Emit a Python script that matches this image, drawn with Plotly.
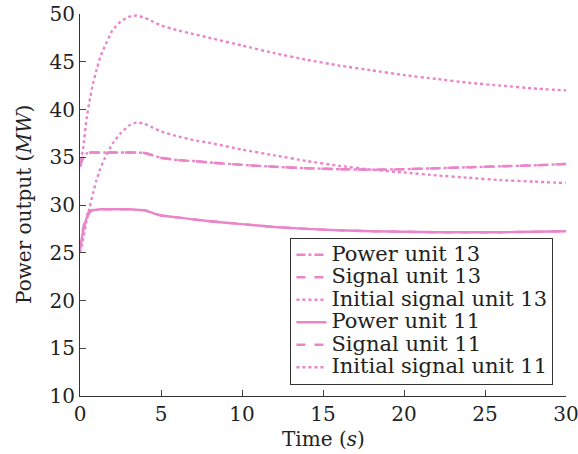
import plotly.graph_objects as go

t = [0, 0.2, 0.4, 0.6, 0.8, 1, 1.25, 1.5, 2, 2.5, 3, 3.5, 4, 4.5, 5, 6, 7, 8, 10, 12, 14, 16, 18, 20, 22, 24, 26, 28, 30]

power_13 = [34.2, 35.0, 35.4, 35.5, 35.5, 35.5, 35.5, 35.5, 35.5, 35.5, 35.5, 35.5, 35.45, 35.2, 34.95, 34.7, 34.6, 34.45, 34.2, 34.0, 33.85, 33.75, 33.7, 33.75, 33.85, 33.95, 34.05, 34.15, 34.3]
signal_13 = [34.0, 35.1, 35.45, 35.5, 35.5, 35.5, 35.5, 35.5, 35.5, 35.5, 35.5, 35.5, 35.45, 35.2, 34.95, 34.7, 34.6, 34.45, 34.2, 34.0, 33.85, 33.75, 33.7, 33.75, 33.85, 33.95, 34.05, 34.15, 34.3]
initial_13 = [34.0, 36.0, 39.0, 41.0, 42.7, 44.0, 45.5, 46.5, 48.3, 49.2, 49.7, 49.85, 49.6, 49.2, 48.8, 48.3, 47.9, 47.5, 46.7, 45.9, 45.2, 44.6, 44.1, 43.6, 43.2, 42.8, 42.5, 42.2, 42.0]
power_11 = [25.5, 27.3, 28.6, 29.2, 29.45, 29.5, 29.55, 29.55, 29.55, 29.55, 29.55, 29.5, 29.45, 29.15, 28.9, 28.7, 28.5, 28.3, 28.0, 27.7, 27.5, 27.35, 27.25, 27.2, 27.15, 27.15, 27.15, 27.2, 27.25]
signal_11 = [25.3, 27.6, 28.9, 29.35, 29.5, 29.55, 29.55, 29.55, 29.55, 29.55, 29.55, 29.5, 29.45, 29.15, 28.9, 28.7, 28.5, 28.3, 28.0, 27.7, 27.5, 27.35, 27.25, 27.2, 27.15, 27.15, 27.15, 27.2, 27.25]
initial_11 = [25.0, 26.5, 28.3, 29.8, 31.2, 32.5, 33.8, 34.8, 36.4, 37.5, 38.3, 38.65, 38.5, 38.1, 37.7, 37.2, 36.8, 36.5, 35.8, 35.2, 34.6, 34.1, 33.7, 33.4, 33.1, 32.85, 32.6, 32.45, 32.3]

x_ticks = [0, 5, 10, 15, 20, 25, 30]
y_ticks = [10, 15, 20, 25, 30, 35, 40, 45, 50]

color = "#E985C8"
font_family = "DejaVu Serif, serif"

series = [
    ("Power unit 13", power_13, "dashdot"),
    ("Signal unit 13", signal_13, "dash"),
    ("Initial signal unit 13", initial_13, "dot"),
    ("Power unit 11", power_11, "solid"),
    ("Signal unit 11", signal_11, "dash"),
    ("Initial signal unit 11", initial_11, "dot"),
]

fig = go.Figure()
for name, vals, dash in series:
    fig.add_trace(go.Scatter(
        x=t, y=vals, mode="lines",
        name="<span style='font-size:21px'>" + name + "</span>",
        line=dict(color=color, dash=dash, width=2.4, shape="spline", smoothing=0.3)))

fig.update_layout(
    width=578, height=454,
    margin=dict(l=80, r=12, t=14, b=58, autoexpand=False),
    paper_bgcolor="white", plot_bgcolor="white",
    font=dict(family=font_family, size=20, color="#222"),
    showlegend=True,
    legend=dict(x=0.433, y=0.03, xanchor="left", yanchor="bottom",
                bordercolor="#333", borderwidth=1, bgcolor="white",
                font=dict(size=15, family=font_family, color="#222"), tracegroupgap=0,
                itemwidth=30),
    annotations=[
        dict(text="Time (<i>s</i>)", xref="paper", yref="paper", x=0.5, y=0,
             xanchor="center", yanchor="top", yshift=-29, showarrow=False,
             font=dict(size=20)),
        dict(text="Power output (<i>MW</i>)", xref="paper", yref="paper", x=0, y=0.5,
             xanchor="right", yanchor="middle", xshift=-42, textangle=-90, showarrow=False,
             font=dict(size=20)),
    ],
)
fig.update_xaxes(range=[0, 30], tickvals=x_ticks, ticks="inside", ticklen=6, automargin=False,
                 ticklabeloverflow="allow",
                 showline=True, linecolor="#333", linewidth=1, showgrid=False, zeroline=False)
fig.update_yaxes(range=[10, 50], tickvals=y_ticks, ticks="inside", ticklen=6, automargin=False,
                 ticklabeloverflow="allow",
                 showline=True, linecolor="#333", linewidth=1, showgrid=False, zeroline=False)

fig.write_html("out.html", config={"displayModeBar": False},
               post_script="document.body.style.margin='0';document.body.style.overflow='hidden';")
